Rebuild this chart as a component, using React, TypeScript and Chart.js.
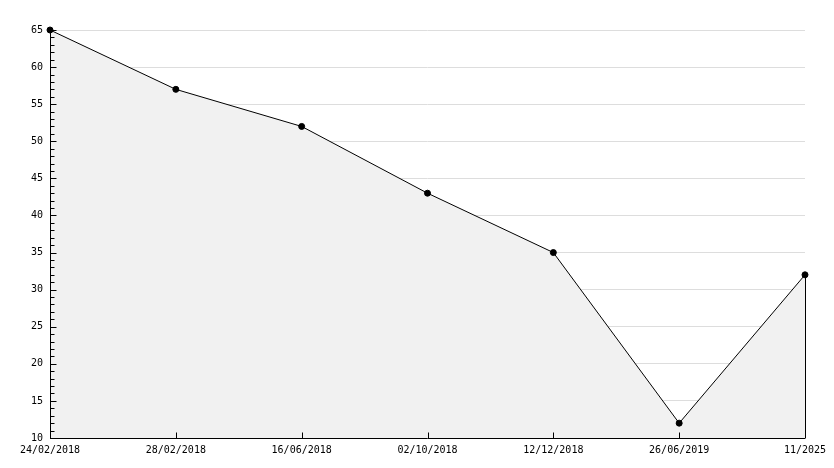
import React, { useEffect, useRef } from "react";
import { Chart, registerables } from "chart.js";

Chart.register(...registerables);

const categories = ["24/02/2018", "28/02/2018", "16/06/2018", "02/10/2018", "12/12/2018", "26/06/2019", "11/2025"];
const values = [65, 57, 52, 43, 35, 12, 32];
const yMin = 10;
const yMax = 65;
const yStep = 5;
const minorStep = 1;

const FONT = "'DejaVu Sans Mono', monospace";

const axesPlugin = {
  id: "customAxes",
  afterDatasetsDraw(chart: any) {
    const { ctx, chartArea, scales } = chart;
    const x = scales.x;
    const y = scales.y;
    ctx.save();
    ctx.strokeStyle = "#000";
    ctx.lineWidth = 1;
    ctx.beginPath();
    const lastX = Math.round(x.getPixelForValue(categories.length - 1)) + 0.5;
    ctx.moveTo(lastX, y.getPixelForValue(values[values.length - 1]));
    ctx.lineTo(lastX, chartArea.bottom);
    const ax = Math.round(chartArea.left) + 0.5;
    ctx.moveTo(ax, chartArea.top);
    ctx.lineTo(ax, chartArea.bottom);
    const ay = Math.round(chartArea.bottom) + 0.5;
    ctx.moveTo(chartArea.left, ay);
    ctx.lineTo(chartArea.right, ay);
    for (let v = yMin; v <= yMax + 1e-9; v += minorStep) {
      const py = Math.round(y.getPixelForValue(v)) + 0.5;
      const major = Math.abs(v % yStep) < 1e-9;
      ctx.moveTo(ax, py);
      ctx.lineTo(ax + (major ? 6 : 4), py);
    }
    for (let i = 0; i < categories.length; i++) {
      const px = Math.round(x.getPixelForValue(i)) + 0.5;
      ctx.moveTo(px, ay);
      ctx.lineTo(px, ay - 6);
    }
    ctx.stroke();
    ctx.restore();
  },
};

export default function App() {
  const ref = useRef<HTMLCanvasElement | null>(null);
  useEffect(() => {
    if (!ref.current) return;
    const chart = new Chart(ref.current, {
      type: "line",
      data: {
        labels: categories,
        datasets: [
          {
            data: values,
            borderColor: "#000",
            borderWidth: 1,
            backgroundColor: "#f1f1f1",
            fill: "origin",
            tension: 0,
            clip: false,
            pointRadius: 3,
            pointBackgroundColor: "#000",
            pointBorderColor: "#000",
            pointBorderWidth: 1,
          },
        ],
      },
      options: {
        animation: false,
        responsive: false,
        maintainAspectRatio: false,
        layout: { padding: { top: 30, right: 29, left: 0, bottom: 0 } },
        plugins: { legend: { display: false }, tooltip: { enabled: false } },
        scales: {
          x: {
            type: "category",
            offset: false,
            grid: { display: false, drawTicks: false },
            border: { display: false },
            ticks: {
              color: "#000",
              font: { family: FONT, size: 10 },
              maxRotation: 0,
              autoSkip: false,
              padding: 6,
            },
            afterFit(scale: any) {
              scale.height = 30;
            },
          },
          y: {
            min: yMin,
            max: yMax,
            grid: { color: "#dddddd", drawTicks: false, lineWidth: 1 },
            border: { display: false },
            ticks: {
              stepSize: yStep,
              color: "#000",
              font: { family: FONT, size: 10 },
              padding: 7,
            },
            afterFit(scale: any) {
              scale.width = 50;
            },
          },
        },
      },
      plugins: [axesPlugin],
    });
    return () => chart.destroy();
  }, []);
  return (
    <div style={{ position: "fixed", left: 0, top: 0, width: 834, height: 468, background: "#fff" }}>
      <canvas ref={ref} width={834} height={468} style={{ width: 834, height: 468, display: "block" }} />
    </div>
  );
}
